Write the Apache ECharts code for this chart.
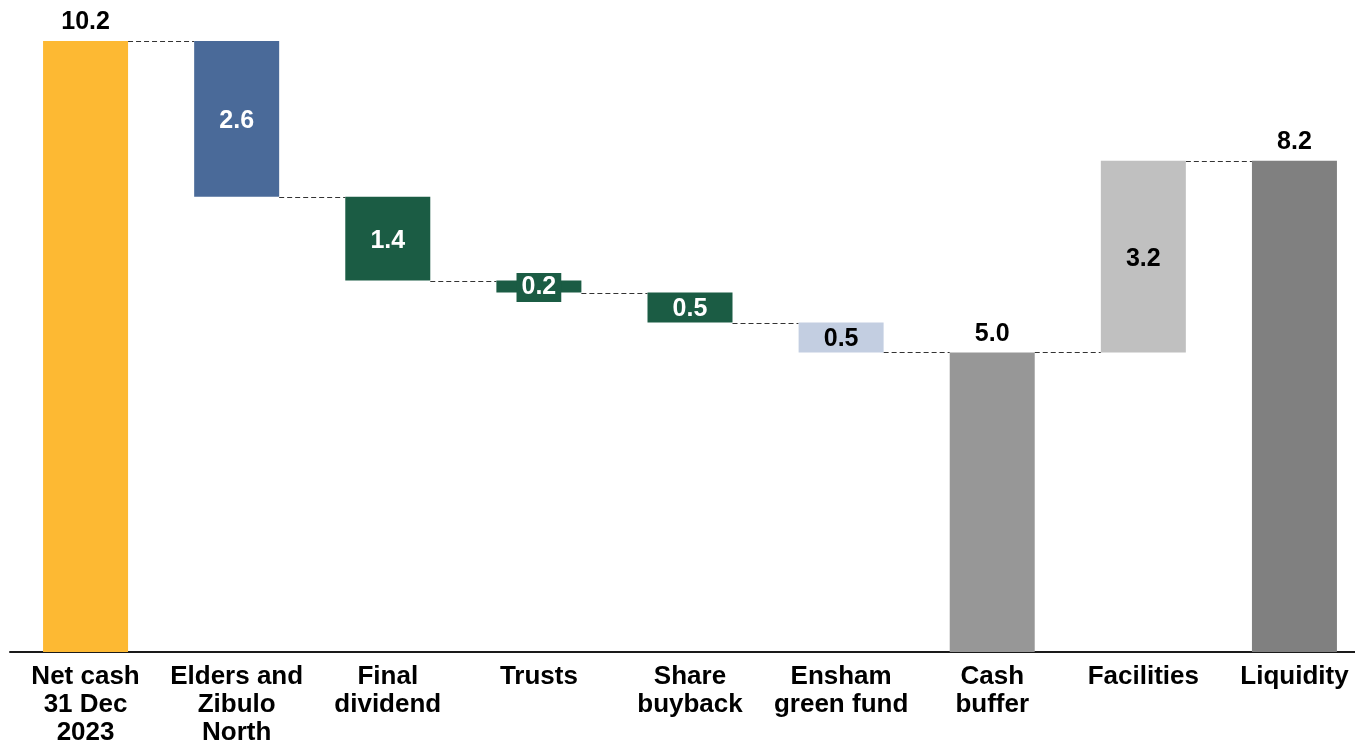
<!DOCTYPE html>
<html>
<head>
<meta charset="utf-8">
<script src="https://cdn.jsdelivr.net/npm/echarts@6/dist/echarts.min.js"></script>
<style>
html,body{margin:0;padding:0;background:#fff;}
#main{width:1355px;height:743px;}
</style>
</head>
<body>
<div id="main"></div>
<script>
var categories = ['Net cash\n31 Dec\n2023', 'Elders and\nZibulo\nNorth', 'Final\ndividend', 'Trusts', 'Share\nbuyback', 'Ensham\ngreen fund', 'Cash\nbuffer', 'Facilities', 'Liquidity'];
var amounts = [10.2, 2.6, 1.4, 0.2, 0.5, 0.5, 5.0, 3.2, 8.2];
var kinds = ['total', 'down', 'down', 'down', 'down', 'down', 'total', 'up', 'total'];
var colors = ['#FDB933', '#4A6A99', '#1B5C44', '#1B5C44', '#1B5C44', '#C3CEE1', '#979797', '#C0C0C0', '#808080'];
var labelColors = ['#000', '#fff', '#fff', '#fff', '#fff', '#000', '#000', '#000', '#000'];

var FONT = '"Liberation Sans", Arial, sans-serif';
var BAR_W = 85;

var bases = [], levels = [];
var running = 0;
for (var i = 0; i < amounts.length; i++) {
  var k = kinds[i];
  if (k === 'total') { bases.push(0); running = amounts[i]; }
  else if (k === 'down') { running = +(running - amounts[i]).toFixed(4); bases.push(running); }
  else { bases.push(running); running = +(running + amounts[i]).toFixed(4); }
  levels.push(running);
}
var connectors = [];
for (var j = 0; j < amounts.length - 1; j++) {
  connectors.push([j, levels[j]]);
}

var valueData = amounts.map(function (v, i) {
  var isTotal = kinds[i] === 'total';
  var lab = {
    show: true,
    position: isTotal ? 'top' : 'inside',
    distance: 6,
    color: labelColors[i],
    fontSize: 25,
    fontWeight: 'bold',
    fontFamily: FONT,
    formatter: function () { return v.toFixed(1); }
  };
  if (!isTotal) lab.offset = [0, 2];
  if (i === 3) {
    lab.backgroundColor = colors[i];
    lab.padding = [2, 5, 0, 5];
    lab.lineHeight = 27;
    lab.offset = [0, 1];
  }
  return { value: v, itemStyle: { color: colors[i] }, label: lab };
});

var chart = echarts.init(document.getElementById('main'), null, { renderer: 'canvas' });
chart.setOption({
  animation: false,
  backgroundColor: '#fff',
  grid: { left: 10, right: -15, top: 41, bottom: 91, containLabel: false, outerBoundsMode: 'none' },
  xAxis: {
    type: 'category',
    data: categories,
    axisLine: { lineStyle: { color: '#1a1a1a', width: 2 } },
    axisTick: { show: false },
    axisLabel: {
      interval: 0,
      color: '#000',
      fontSize: 26,
      fontWeight: 'bold',
      fontFamily: FONT,
      lineHeight: 28,
      margin: 11
    }
  },
  yAxis: { type: 'value', min: 0, max: 10.2, show: false, splitLine: { show: false } },
  series: [
    {
      type: 'bar', stack: 'w', barWidth: BAR_W, silent: true,
      itemStyle: { color: 'transparent' },
      data: bases
    },
    {
      type: 'bar', stack: 'w', barWidth: BAR_W,
      data: valueData
    },
    {
      type: 'custom',
      data: connectors,
      z: 1,
      renderItem: function (params, api) {
        var idx = api.value(0), lv = api.value(1);
        var p1 = api.coord([idx, lv]);
        var p2 = api.coord([idx + 1, lv]);
        var y = Math.round(p1[1]) + 0.5;
        return {
          type: 'line',
          shape: { x1: p1[0] + BAR_W / 2, y1: y, x2: p2[0] - BAR_W / 2, y2: y },
          style: { stroke: '#333', lineWidth: 1, lineDash: [5, 3] }
        };
      }
    }
  ]
});
</script>
</body>
</html>
